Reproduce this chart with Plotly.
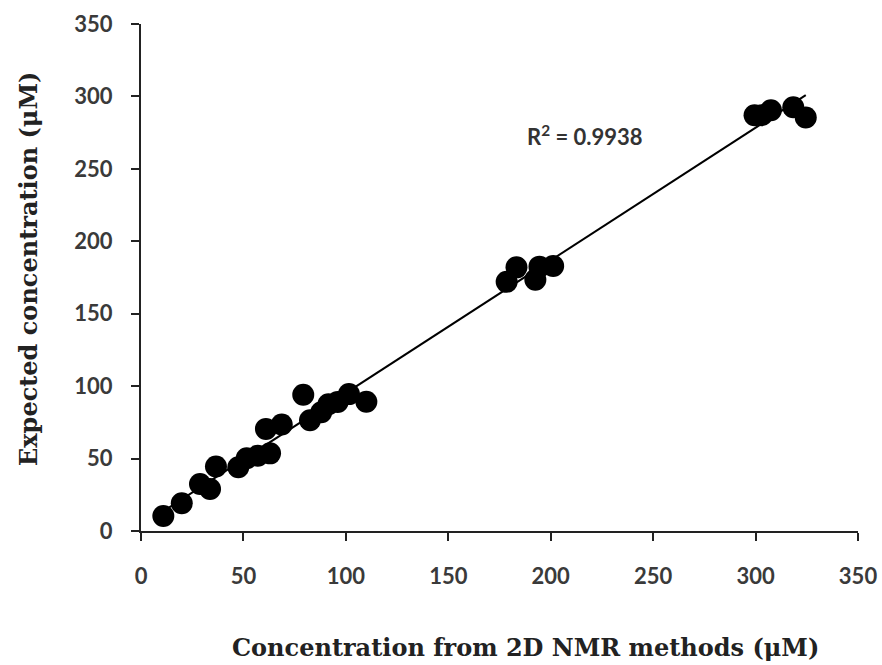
import numpy as np
import plotly.graph_objects as go

# Data
nmr_conc = [10.9, 19.9, 28.8, 33.7, 36.6, 47.5, 51.6, 57.0, 61.0, 63.0, 68.7,
            79.2, 82.5, 88.0, 91.5, 96.0, 101.5, 110.0,
            178.5, 183.3, 192.5, 194.5, 201.2,
            299.5, 303.0, 307.5, 318.4, 324.5]
expected_conc = [10.4, 19.1, 32.5, 29.0, 44.5, 44.0, 50.2, 52.0, 70.5, 53.6, 73.5,
                 94.0, 76.5, 82.0, 87.5, 89.0, 94.5, 89.2,
                 172.0, 182.0, 173.5, 182.5, 183.0,
                 287.0, 287.0, 290.5, 292.5, 285.5]
x_ticks = [0, 50, 100, 150, 200, 250, 300, 350]
y_ticks = [0, 50, 100, 150, 200, 250, 300, 350]
x_title = "Concentration from 2D NMR methods (μM)"
y_title = "Expected concentration (μM)"
r2_label = "R<sup>2</sup> = 0.9938"

x_arr = np.array(nmr_conc)
y_arr = np.array(expected_conc)
slope, intercept = np.polyfit(x_arr, y_arr, 1)
line_x = np.array([x_arr.min(), x_arr.max()])
line_y = slope * line_x + intercept

fig = go.Figure()
fig.add_trace(go.Scatter(
    x=line_x, y=line_y, mode="lines",
    line=dict(color="black", width=2), showlegend=False, hoverinfo="skip"))
fig.add_trace(go.Scatter(
    x=nmr_conc, y=expected_conc, mode="markers",
    marker=dict(color="black", size=22, line=dict(width=0)),
    showlegend=False, cliponaxis=False))

tick_font = dict(family="Lato", size=22, color="#3a3a3a", weight="bold")
title_font = dict(family="DejaVu Serif", size=24, color="#222222", weight="bold")
axis_common = dict(
    range=[0, 350], showgrid=False, zeroline=False, automargin=False,
    showline=True, linecolor="#222222", linewidth=2,
    ticks="outside", ticklen=8, tickwidth=2, tickcolor="#222222",
    tickfont=tick_font, tickmode="array",
)

fig.update_xaxes(**axis_common, tickvals=x_ticks, ticklabelstandoff=17)
fig.update_yaxes(**axis_common, tickvals=y_ticks, ticklabelstandoff=14)

# Axis titles (positioned as in the reference)
fig.add_annotation(x=(525 - 141) / 717, y=(531 - 647) / 507,
                   xref="paper", yref="paper", text="<b>" + x_title + "</b>",
                   showarrow=False, xanchor="center", yanchor="middle",
                   font=title_font)
fig.add_annotation(x=(28 - 141) / 717, y=(531 - 269) / 507,
                   xref="paper", yref="paper", text="<b>" + y_title + "</b>",
                   showarrow=False, xanchor="center", yanchor="middle",
                   textangle=-90, font=title_font)

fig.add_annotation(x=(585 - 141) / 717, y=(531 - 135) / 507,
                   xref="x domain", yref="y domain",
                   text="<b>" + r2_label + "</b>", showarrow=False,
                   xanchor="center", yanchor="middle",
                   font=dict(family="Lato", size=22, color="#333333"))

fig.update_layout(
    width=882, height=665,
    margin=dict(l=141, r=24, t=24, b=134),
    paper_bgcolor="white", plot_bgcolor="white",
)

fig.write_html("out.html", config={"displayModeBar": False},
               post_script="document.body.style.margin='0px';")
